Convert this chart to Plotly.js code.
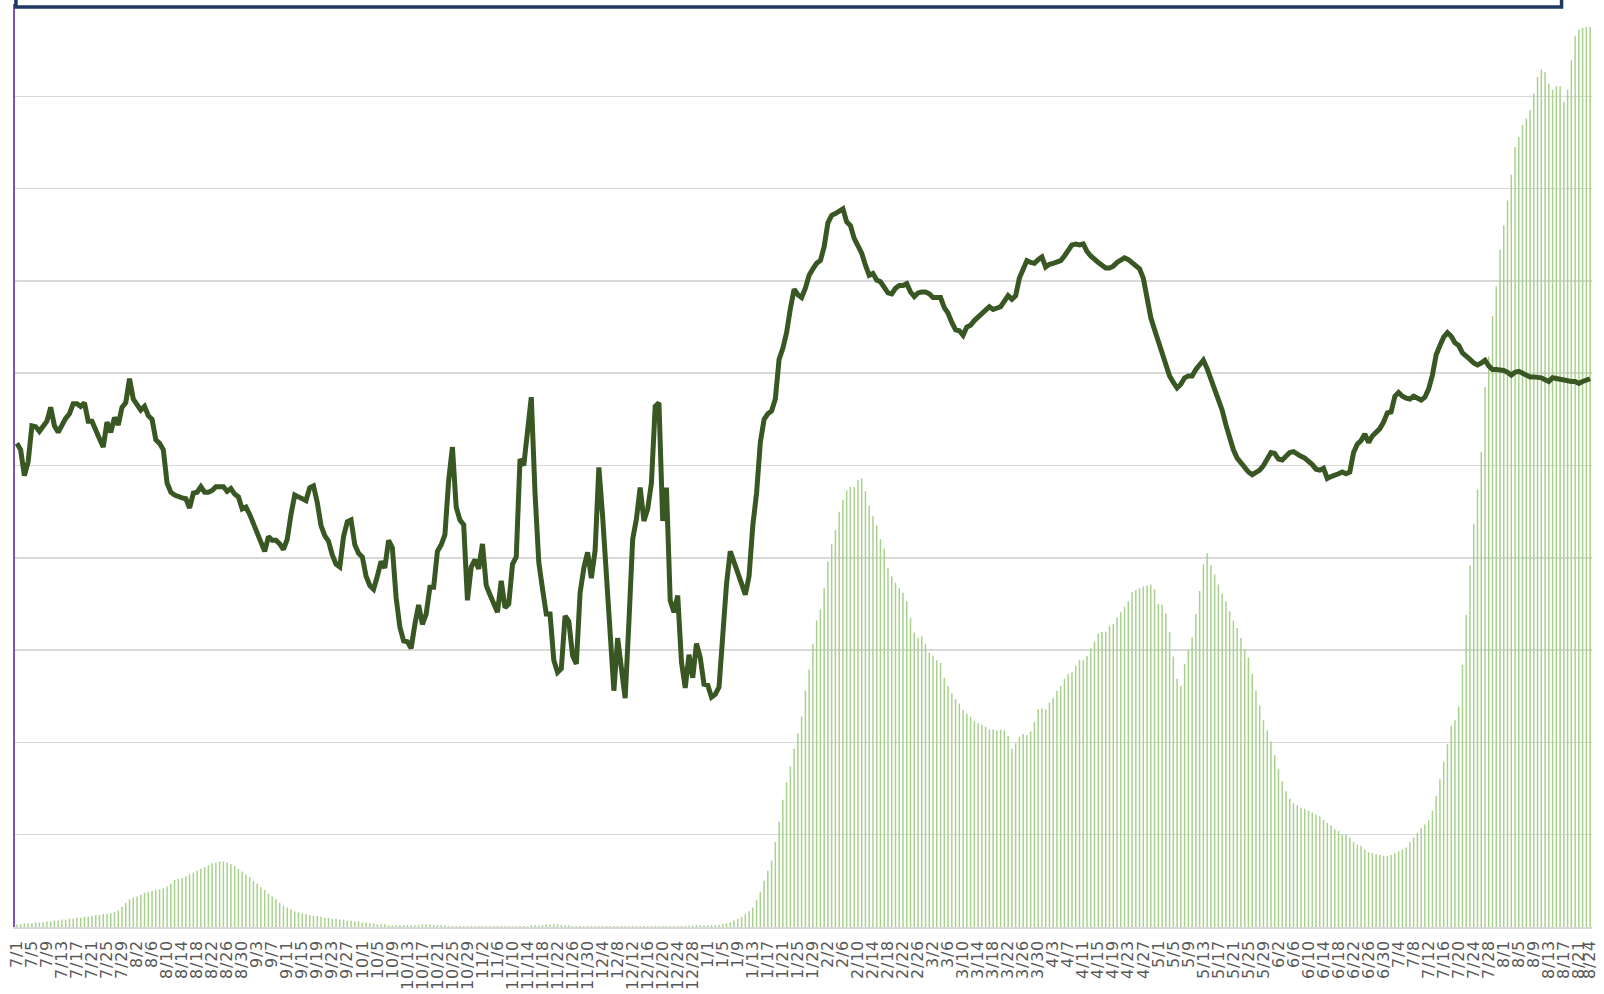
<!DOCTYPE html>
<html>
<head>
<meta charset="utf-8">
<script src="https://cdn.plot.ly/plotly-3.0.1.min.js"></script>
<style>
html,body{margin:0;padding:0;background:#fff;overflow:hidden}
#chart .xtick text{letter-spacing:0.8px}
</style>
</head>
<body>
<div id="chart" style="width:1604px;height:994px"></div>
<script>
// Daily bars (grid units), 2020-07-01 .. 2021-08-24
const cases = [
  // Jul 2020
  0.03,0.03,0.04,0.04,0.04,0.05,0.05,0.05,0.06,0.06, 0.07,0.07,0.08,0.08,0.09,0.09,0.10,0.10,0.11,0.11, 0.12,0.13,0.13,0.14,0.14,0.15,0.16,0.18,0.22,0.26, 0.30,
  // Aug 2020
  0.32,0.33,0.35,0.37,0.38,0.39,0.40,0.41,0.42,0.44, 0.47,0.51,0.52,0.53,0.55,0.57,0.59,0.61,0.63,0.65, 0.67,0.69,0.70,0.71,0.71,0.70,0.68,0.66,0.63,0.60, 0.57,
  // Sep 2020
  0.54,0.50,0.47,0.43,0.40,0.36,0.33,0.30,0.26,0.23, 0.21,0.19,0.17,0.16,0.15,0.14,0.13,0.12,0.12,0.11, 0.10,0.10,0.09,0.09,0.08,0.08,0.07,0.07,0.06,0.06,
  // Oct 2020
  0.05,0.05,0.04,0.04,0.03,0.03,0.03,0.02,0.02,0.02, 0.02,0.02,0.02,0.02,0.02,0.02,0.03,0.03,0.03,0.02, 0.02,0.02,0.02,0.01,0.01,0.01,0.01,0.01,0.01,0.01, 0.01,
  // Nov 2020
  0.01,0.01,0.01,0.01,0.01,0.01,0.01,0.01,0.01,0.01, 0.01,0.01,0.01,0.01,0.02,0.02,0.02,0.02,0.03,0.03, 0.03,0.03,0.02,0.02,0.02,0.01,0.01,0.01,0.01,0.01,
  // Dec 2020
  0.01,0.01,0.01,0.01,0.01,0.01,0.01,0.01,0.01,0.01, 0.01,0.01,0.01,0.01,0.01,0.01,0.01,0.01,0.01,0.01, 0.01,0.01,0.01,0.01,0.01,0.01,0.015,0.015,0.02,0.02, 0.02,
  // Jan 2021
  0.02,0.02,0.02,0.025,0.03,0.04,0.05,0.07,0.09,0.11, 0.14,0.17,0.21,0.29,0.38,0.50,0.61,0.72,0.92,1.14, 1.38,1.57,1.74,1.93,2.10,2.28,2.56,2.79,3.07,3.32, 3.44,
  // Feb 2021
  3.67,3.96,4.15,4.30,4.50,4.63,4.73,4.77,4.77,4.84, 4.86,4.72,4.56,4.45,4.35,4.20,4.10,3.89,3.80,3.73, 3.67,3.62,3.53,3.35,3.19,3.13,3.15,3.07,
  // Mar 2021
  2.97,2.94,2.89,2.86,2.70,2.61,2.53,2.47,2.42,2.35, 2.31,2.28,2.23,2.21,2.19,2.17,2.14,2.14,2.13,2.14, 2.13,2.07,1.93,1.99,2.06,2.09,2.08,2.12,2.22,2.36, 2.37,
  // Apr 2021
  2.36,2.43,2.48,2.56,2.61,2.69,2.74,2.76,2.83,2.89, 2.89,2.94,3.02,3.09,3.18,3.20,3.20,3.26,3.28,3.35, 3.41,3.47,3.53,3.63,3.65,3.67,3.69,3.70,3.71,3.66,
  // May 2021
  3.50,3.49,3.40,3.20,2.93,2.69,2.61,2.85,3.00,3.14, 3.39,3.64,3.93,4.05,3.92,3.82,3.71,3.61,3.53,3.42, 3.32,3.24,3.13,3.01,2.92,2.74,2.56,2.40,2.24,2.13, 2.01,
  // Jun 2021
  1.86,1.71,1.58,1.47,1.39,1.34,1.32,1.29,1.28,1.26, 1.24,1.22,1.20,1.16,1.13,1.10,1.06,1.04,1.00,1.00, 0.97,0.92,0.89,0.88,0.84,0.81,0.80,0.79,0.78,0.77,
  // Jul 2021
  0.77,0.78,0.80,0.82,0.84,0.86,0.92,0.97,1.02,1.07, 1.11,1.16,1.26,1.42,1.60,1.79,1.98,2.18,2.24,2.39, 2.84,3.38,3.92,4.37,4.74,5.15,5.85,6.18,6.62,6.94, 7.34,
  // Aug 2021
  7.60,7.87,8.15,8.45,8.56,8.69,8.76,8.85,9.03,9.21, 9.29,9.26,9.14,9.07,9.11,9.11,8.94,9.07,9.39,9.65, 9.72,9.74,9.75,9.75
];

// Daily line values (secondary axis, same grid units)
const ratio = [
  // Jul 2020
  5.24,5.17,4.89,5.04,5.43,5.42,5.37,5.43,5.48,5.63, 5.43,5.36,5.45,5.51,5.56,5.67,5.67,5.64,5.68,5.48, 5.48,5.37,5.29,5.20,5.47,5.36,5.52,5.44,5.63,5.68, 5.94,
  // Aug 2020
  5.72,5.67,5.60,5.64,5.54,5.50,5.28,5.24,5.17,4.81, 4.71,4.68,4.66,4.65,4.64,4.54,4.70,4.71,4.77,4.71, 4.71,4.73,4.77,4.77,4.77,4.72,4.75,4.69,4.66,4.53, 4.55,
  // Sep 2020
  4.47,4.37,4.29,4.18,4.07,4.23,4.19,4.19,4.15,4.09, 4.20,4.47,4.68,4.66,4.64,4.62,4.76,4.78,4.60,4.35, 4.24,4.18,4.03,3.93,3.90,4.23,4.39,4.41,4.14,4.05,
  // Oct 2020
  4.01,3.80,3.70,3.66,3.80,3.96,3.89,4.19,4.11,3.57, 3.25,3.10,3.09,3.02,3.28,3.49,3.28,3.39,3.68,3.68, 4.07,4.14,4.25,4.84,5.20,4.55,4.41,4.36,3.54,3.90, 3.98,
  // Nov 2020
  3.88,4.15,3.70,3.60,3.50,3.41,3.75,3.46,3.50,3.93, 4.01,5.07,5.00,5.33,5.74,4.70,3.95,3.66,3.39,3.39, 2.89,2.76,2.80,3.37,3.31,2.94,2.85,3.62,3.89,4.06,
  // Dec 2020
  3.78,4.08,4.98,4.45,3.85,3.20,2.56,3.13,2.84,2.48, 3.30,4.20,4.42,4.76,4.40,4.53,4.81,5.64,5.68,4.40, 4.76,3.54,3.41,3.59,2.87,2.59,2.95,2.70,3.07,2.92, 2.63,
  // Jan 2021
  2.62,2.49,2.52,2.60,3.20,3.72,4.07,3.96,3.86,3.72, 3.60,3.80,4.35,4.70,5.25,5.50,5.56,5.59,5.72,6.15, 6.27,6.44,6.70,6.91,6.85,6.82,6.92,7.06,7.13,7.19, 7.22,
  // Feb 2021
  7.37,7.63,7.71,7.73,7.76,7.78,7.64,7.60,7.46,7.39, 7.30,7.17,7.06,7.08,7.01,6.99,6.92,6.87,6.86,6.92, 6.95,6.95,6.97,6.88,6.83,6.87,6.88,6.88,
  // Mar 2021
  6.86,6.82,6.82,6.82,6.71,6.65,6.55,6.47,6.46,6.41, 6.50,6.52,6.57,6.61,6.64,6.68,6.72,6.69,6.70,6.72, 6.78,6.84,6.80,6.84,7.03,7.13,7.22,7.20,7.19,7.23, 7.26,
  // Apr 2021
  7.15,7.18,7.19,7.20,7.22,7.27,7.32,7.39,7.40,7.39, 7.40,7.32,7.27,7.23,7.20,7.17,7.14,7.14,7.16,7.20, 7.22,7.25,7.23,7.20,7.17,7.13,7.03,6.80,6.60,6.47,
  // May 2021
  6.35,6.25,6.12,5.97,5.90,5.84,5.88,5.95,5.97,5.97, 6.04,6.10,6.14,6.05,5.94,5.84,5.72,5.60,5.44,5.28, 5.17,5.08,5.03,4.97,4.93,4.90,4.93,4.95,5.00,5.06, 5.14,
  // Jun 2021
  5.13,5.07,5.06,5.11,5.14,5.15,5.12,5.10,5.08,5.05, 5.01,4.96,4.95,4.97,4.86,4.88,4.89,4.91,4.93,4.91, 4.93,5.14,5.23,5.27,5.34,5.25,5.32,5.36,5.40,5.47,
  // Jul 2021
  5.57,5.58,5.75,5.79,5.75,5.73,5.72,5.75,5.73,5.71, 5.74,5.83,5.98,6.20,6.30,6.39,6.44,6.40,6.33,6.30, 6.22,6.19,6.15,6.11,6.09,6.11,6.14,6.08,6.04,6.04, 6.04,
  // Aug 2021
  6.03,6.01,5.98,6.01,6.02,6.00,5.98,5.96,5.96,5.96, 5.95,5.93,5.91,5.95,5.94,5.93,5.92,5.91,5.91,5.91, 5.89,5.91,5.93,5.94
];

// Categories: consecutive days from 2020-07-01
const dates = [];
const dayLabels = [];
for (let k = 0; k < cases.length; k++) {
  const d = new Date(Date.UTC(2020, 6, 1 + k));
  dates.push(d.toISOString().slice(0, 10));
  dayLabels.push((d.getUTCMonth() + 1) + '/' + d.getUTCDate());
}
// Tick labels every 4 days plus the final day
const tickVals = [], tickText = [];
for (let k = 0; k < dates.length; k += 4) { tickVals.push(dates[k]); tickText.push(dayLabels[k]); }
if (tickVals[tickVals.length - 1] !== dates[dates.length - 1]) {
  tickVals.push(dates[dates.length - 1]); tickText.push(dayLabels[dayLabels.length - 1]);
}

const traces = [
  {
    type: 'bar', x: dates, y: cases, yaxis: 'y',
    marker: { color: '#a9d18e', line: { width: 0 } },
    hoverinfo: 'skip', showlegend: false
  },
  {
    type: 'scatter', mode: 'lines', x: dates, y: ratio, yaxis: 'y2',
    line: { color: '#385723', width: 5, shape: 'linear' },
    hoverinfo: 'skip', showlegend: false
  }
];

const layout = {
  width: 1604, height: 994,
  margin: { l: 15, r: 12, t: 4, b: 67, pad: 0 },
  paper_bgcolor: '#ffffff', plot_bgcolor: '#ffffff',
  showlegend: false,
  bargap: 0.6,
  xaxis: {
    type: 'category',
    range: [-0.5, dates.length - 0.5],
    tickmode: 'array', tickvals: tickVals, ticktext: tickText,
    tickangle: -90,
    tickfont: { family: 'DejaVu Sans', size: 16, color: '#595959' },
    ticks: '', ticklabelstandoff: 5,
    showgrid: false, zeroline: false,
    showline: true, linecolor: '#d9d9d9', linewidth: 1.5,
    automargin: false, fixedrange: true
  },
  yaxis: {
    range: [0, 10], dtick: 1, tick0: 0,
    showgrid: true, gridcolor: '#d9d9d9', gridwidth: 1.5,
    showticklabels: false, ticks: '',
    zeroline: false,
    showline: true, linecolor: '#8050bf', linewidth: 2.2,
    automargin: false, fixedrange: true
  },
  yaxis2: {
    overlaying: 'y', side: 'right', range: [0, 10],
    visible: false, showgrid: false, zeroline: false, fixedrange: true
  },
  shapes: [
    {
      type: 'rect', xref: 'paper', yref: 'paper', layer: 'above',
      x0: 0.0006, x1: 0.9807, y0: 0.9968, y1: 1.06,
      line: { color: '#1f3864', width: 3.5 },
      fillcolor: '#ffffff'
    }
  ]
};

Plotly.newPlot('chart', traces, layout, { staticPlot: true, displayModeBar: false });
</script>
</body>
</html>
